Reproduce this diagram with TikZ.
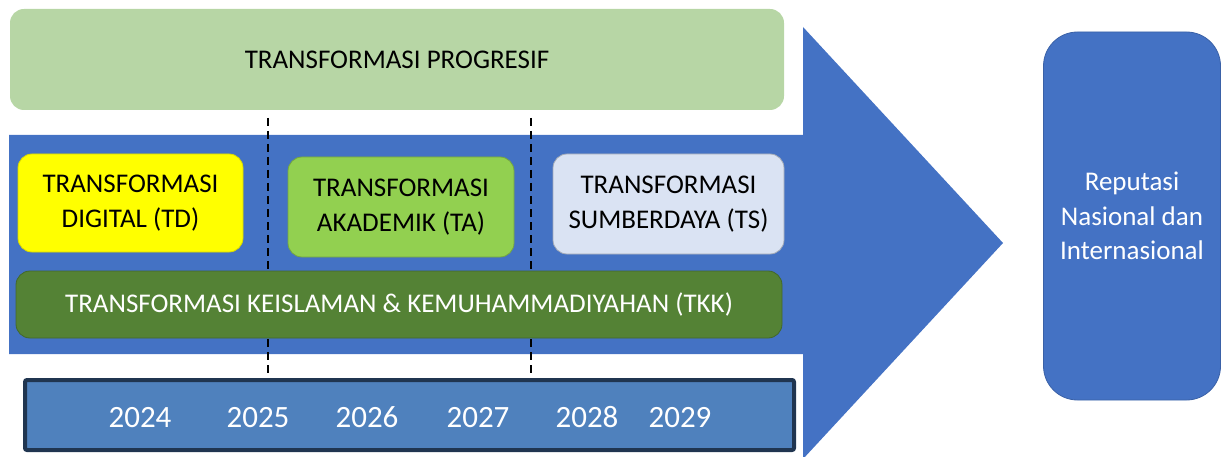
\documentclass[tikz,border=0pt]{standalone}
\usepackage{fontspec}
\setmainfont{Carlito}
\definecolor{progGreen}{RGB}{183,214,165}
\definecolor{arrowBlue}{RGB}{68,114,196}
\definecolor{tdYellow}{RGB}{255,255,0}
\definecolor{taGreen}{RGB}{146,208,80}
\definecolor{tsBlue}{RGB}{218,227,243}
\definecolor{tkkGreen}{RGB}{84,130,53}
\definecolor{yearBlue}{RGB}{79,129,189}
\definecolor{yearEdge}{RGB}{32,53,80}
\begin{document}
\begin{tikzpicture}[x=1pt,y=-1pt,
  txt/.style={font=\fontsize{27}{34.5}\selectfont, align=center},
  box/.style={txt, rounded corners=14pt, inner sep=0pt, line width=0.8pt},
  yearlbl/.style={font=\fontsize{31}{36}\selectfont, text=white, inner sep=0pt, anchor=base},
  period/.style={draw=black, line width=2.2pt, dash pattern=on 8pt off 5pt}]
\useasboundingbox (0,0) rectangle (1222,457);

% big block arrow behind the transformation boxes
\fill[arrowBlue] (9,135) -- (803,135) -- (803,27) -- (1003,243) -- (803,459)
  -- (803,354) -- (9,354) -- cycle;

% period separators
\coordinate (s1top) at (268,118);
\coordinate (s1bot) at (268,380);
\coordinate (s2top) at (531,118);
\coordinate (s2bot) at (531,380);
\draw[period] (s1top) -- (s1bot);
\draw[period] (s2top) -- (s2bot);

% overarching theme
\node[box, fill=progGreen, minimum width=774pt, minimum height=101pt]
  (prog) at (397,59.5) {TRANSFORMASI PROGRESIF};

% three transformation pillars
\node[box, fill=tdYellow, draw=tdYellow!85!black, minimum width=225pt, minimum height=98pt]
  (td) at (130.5,203) {TRANSFORMASI\\DIGITAL (TD)};
\node[box, fill=taGreen, draw=taGreen!80!black, minimum width=226pt, minimum height=100pt]
  (ta) at (401,207) {TRANSFORMASI\\AKADEMIK (TA)};
\node[box, fill=tsBlue, draw=tsBlue!75!black, minimum width=231pt, minimum height=100pt]
  (ts) at (668.5,204) {TRANSFORMASI\\SUMBERDAYA (TS)};

% cross-cutting transformation
\node[box, fill=tkkGreen, draw=tkkGreen!80!black, text=white, minimum width=766pt, minimum height=67pt]
  (tkk) at (399,304.5) {TRANSFORMASI KEISLAMAN \& KEMUHAMMADIYAHAN (TKK)};

% timeline
\node[draw=yearEdge, fill=yearBlue, line width=4pt, rounded corners=2pt,
  minimum width=769pt, minimum height=70pt, inner sep=0pt] (years) at (409.5,415) {};
\node[yearlbl] (y2024) at (140,427) {2024};
\node[yearlbl] (y2025) at (258,427) {2025};
\node[yearlbl] (y2026) at (367,427) {2026};
\node[yearlbl] (y2027) at (478,427) {2027};
\node[yearlbl] (y2028) at (587,427) {2028};
\node[yearlbl] (y2029) at (680,427) {2029};

% goal
\node[txt, fill=arrowBlue, draw=arrowBlue!85!black, line width=0.8pt, rounded corners=34pt,
  text=white, minimum width=177pt, minimum height=368pt, inner sep=0pt]
  (goal) at (1132,216) {Reputasi\\Nasional dan\\Internasional};
\end{tikzpicture}
\end{document}
